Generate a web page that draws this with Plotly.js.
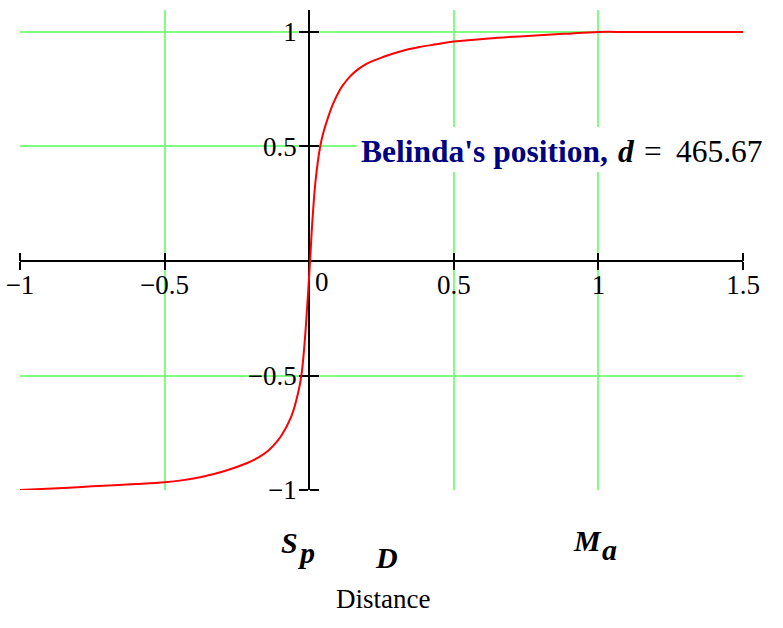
<!DOCTYPE html>
<html>
<head>
<meta charset="utf-8">
<script src="https://cdn.plot.ly/plotly-3.0.1.min.js"></script>
<style>html,body{margin:0;padding:0;background:#fff;}#chart{width:783px;height:628px;}</style>
</head>
<body>
<div id="chart"></div>
<script>
// Curve
var curveX = [-1, -0.85, -0.75, -0.6, -0.5, -0.442, -0.373, -0.292, -0.212, -0.175, -0.143, -0.12, -0.097, -0.062, -0.04, -0.027, -0.016, -0.006, 0.003, 0.011, 0.022, 0.038, 0.05, 0.065, 0.082, 0.105, 0.12, 0.139, 0.16, 0.185, 0.21, 0.243, 0.312, 0.381, 0.439, 0.5, 0.62, 0.755, 0.88, 1, 1.1, 1.25, 1.5];
var curveY = [-1, -0.991, -0.984, -0.974, -0.966, -0.958, -0.943, -0.917, -0.881, -0.858, -0.83, -0.801, -0.764, -0.68, -0.585, -0.5, -0.36, -0.18, 0, 0.175, 0.35, 0.5, 0.565, 0.626, 0.685, 0.745, 0.773, 0.803, 0.828, 0.851, 0.868, 0.885, 0.914, 0.934, 0.946, 0.958, 0.972, 0.983, 0.992, 1, 1, 1, 1];

var xTickVals = [-1, -0.5, 0, 0.5, 1, 1.5];
var xTickText = ['\u22121', '\u22120.5', '', '0.5', '1', '1.5'];
var yTickVals = [-1, -0.5, 0, 0.5, 1];
var yTickText = ['\u22121', '\u22120.5', '', '0.5', '1'];

var xRange = [-1, 1.5];
var yRange = [-1, 1.096];

var labelName = "Belinda's position,";
var labelVar = 'd';
var labelValue = '465.67';

var serif = 'Liberation Serif, Times New Roman, serif';
var green = 'rgb(128,255,128)';

var xPos = (0 - yRange[0]) / (yRange[1] - yRange[0]);
var yPos = (0 - xRange[0]) / (xRange[1] - xRange[0]);

var traces = [
  {x: curveX, y: curveY, type: 'scatter', mode: 'lines',
   line: {color: 'rgb(255,0,0)', width: 2, shape: 'spline', smoothing: 1},
   hoverinfo: 'skip'},
  {x: [null], y: [null], type: 'scatter', mode: 'lines', xaxis: 'x2', yaxis: 'y2', hoverinfo: 'skip'}
];

var tickFont = {family: serif, size: 27, color: '#000'};
var bigFont = {family: serif, size: 30, color: '#000'};
var labelSize = 31.5;

var layout = {
  width: 783, height: 628,
  margin: {l: 20, r: 39.5, t: 10, b: 138, pad: 0},
  paper_bgcolor: '#fff', plot_bgcolor: '#fff',
  showlegend: false, hovermode: false,
  xaxis: {
    range: xRange, anchor: 'free', position: xPos,
    tickvals: xTickVals, ticktext: xTickText, tickfont: tickFont,
    ticks: 'outside', ticklen: 8, tickwidth: 2, tickcolor: '#000', ticklabelstandoff: -8,
    showline: true, linecolor: '#000', linewidth: 2,
    showgrid: true, gridcolor: green, gridwidth: 2,
    zeroline: false, layer: 'below traces', fixedrange: true
  },
  yaxis: {
    range: yRange, anchor: 'free', position: yPos,
    tickvals: yTickVals, ticktext: yTickText, tickfont: tickFont,
    ticks: 'outside', ticklen: 9, tickwidth: 2, tickcolor: '#000', ticklabelstandoff: -3,
    showline: true, linecolor: '#000', linewidth: 2,
    showgrid: true, gridcolor: green, gridwidth: 2,
    zeroline: false, layer: 'below traces', fixedrange: true
  },
  xaxis2: {
    range: xRange, overlaying: 'x', side: 'top', anchor: 'free', position: xPos,
    tickvals: xTickVals, showticklabels: false,
    ticks: 'outside', ticklen: 8, tickwidth: 2, tickcolor: '#000',
    showline: false, showgrid: false, zeroline: false, layer: 'below traces', fixedrange: true
  },
  yaxis2: {
    range: yRange, overlaying: 'y', side: 'right', anchor: 'free', position: yPos,
    tickvals: yTickVals, showticklabels: false,
    ticks: 'outside', ticklen: 9, tickwidth: 2, tickcolor: '#000',
    showline: false, showgrid: false, zeroline: false, layer: 'below traces', fixedrange: true
  },
  shapes: [
    {type: 'rect', xref: 'paper', yref: 'paper', x0: 0.4658, x1: 1.02, y0: 0.6625, y1: 0.7563,
     fillcolor: '#fff', line: {width: 0}, layer: 'above'}
  ],
  annotations: [
    {x: 0, y: 0, xref: 'x', yref: 'y', text: '0', showarrow: false,
     xanchor: 'center', yanchor: 'top', xshift: 13, yshift: -4, font: tickFont},
    {x: 0.176, y: 0.48, xref: 'x', yref: 'y', text: labelName, showarrow: false,
     xanchor: 'left', yanchor: 'middle', borderpad: 0,
     font: {family: serif, size: labelSize, color: '#000080', weight: 'bold'}},
    {x: 1.063, y: 0.48, xref: 'x', yref: 'y', text: '<b><i>' + labelVar + '</i></b>', showarrow: false,
     xanchor: 'left', yanchor: 'middle', borderpad: 0,
     font: {family: serif, size: labelSize, color: '#000'}},
    {x: 1.153, y: 0.48, xref: 'x', yref: 'y', text: '=\u00a0\u2009' + labelValue, showarrow: false,
     xanchor: 'left', yanchor: 'middle', borderpad: 0,
     font: {family: serif, size: labelSize, color: '#000'}},
    {x: -0.069, y: -0.109, xref: 'x', yref: 'paper', text: '<b><i>S</i></b>', showarrow: false,
     xanchor: 'center', yanchor: 'middle', font: bigFont},
    {x: -0.010, y: -0.131, xref: 'x', yref: 'paper', text: '<b><i>p</i></b>', showarrow: false,
     xanchor: 'center', yanchor: 'middle', font: bigFont},
    {x: 0.266, y: -0.141, xref: 'x', yref: 'paper', text: '<b><i>D</i></b>', showarrow: false,
     xanchor: 'center', yanchor: 'middle', font: bigFont},
    {x: 0.962, y: -0.106, xref: 'x', yref: 'paper', text: '<b><i>M</i></b>', showarrow: false,
     xanchor: 'center', yanchor: 'middle', font: bigFont},
    {x: 1.038, y: -0.123, xref: 'x', yref: 'paper', text: '<b><i>a</i></b>', showarrow: false,
     xanchor: 'center', yanchor: 'middle', font: bigFont},
    {x: 0.256, y: -0.227, xref: 'x', yref: 'paper', text: 'Distance', showarrow: false,
     xanchor: 'center', yanchor: 'middle', font: {family: serif, size: 27, color: '#000'}}
  ]
};

Plotly.newPlot('chart', traces, layout, {staticPlot: true, displayModeBar: false});
</script>
</body>
</html>
